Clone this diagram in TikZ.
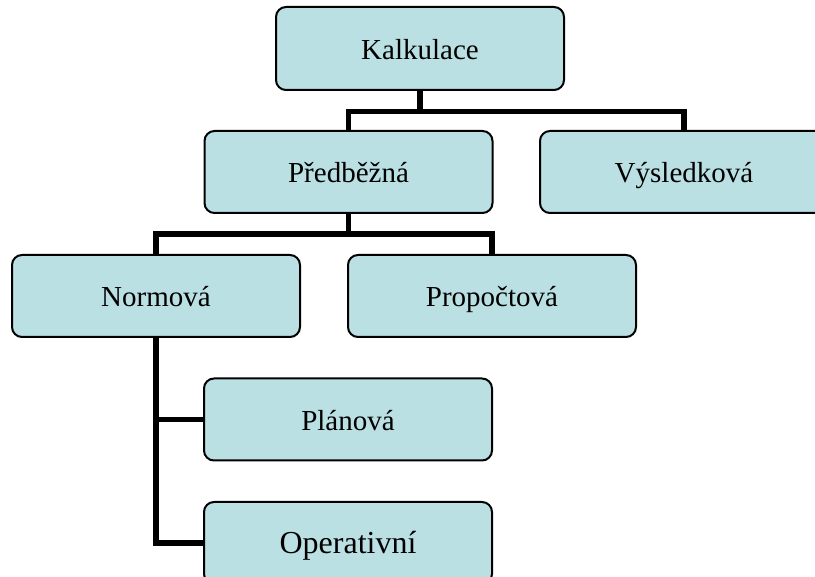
\documentclass[tikz,border=0pt]{standalone}
\usepackage{fontspec}
\setmainfont{Liberation Serif}
\definecolor{boxfill}{RGB}{187,224,227}
\tikzset{
  orgbox/.style={draw=black, line width=2pt, fill=boxfill, rounded corners=10pt,
    minimum width=288pt, minimum height=82pt, inner sep=0pt,
    text height=25pt, text depth=3pt,
    font=\fontsize{29}{34}\selectfont},
  conn/.style={draw=black, line width=5.5pt}
}
\begin{document}
\begin{tikzpicture}[x=1pt,y=-1pt]
\clip (0,0) rectangle (815,577);
\node[orgbox, minimum height=83pt] (K) at (420,48.5) {Kalkulace};
\node[orgbox] (P) at (348.5,172) {Předběžná};
\node[orgbox] (V) at (684,172) {Výsledková};
\node[orgbox] (N) at (156,296) {Normová};
\node[orgbox] (R) at (492,296) {Propočtová};
\node[orgbox] (L) at (348,419.5) {Plánová};
\node[orgbox, font=\fontsize{32}{38}\selectfont] (O) at (348,543) {Operativní};
\draw[conn] (K.south) -- ++(0,20.5) -| (P.north);
\draw[conn] (K.south) -- ++(0,20.5) -| (V.north);
\draw[conn] (P.south) -- ++(0,20) -| (N.north);
\draw[conn] (P.south) -- ++(0,20) -| (R.north);
\draw[conn] (N.south) |- (L.west);
\draw[conn] (N.south) |- (O.west);
\end{tikzpicture}
\end{document}
